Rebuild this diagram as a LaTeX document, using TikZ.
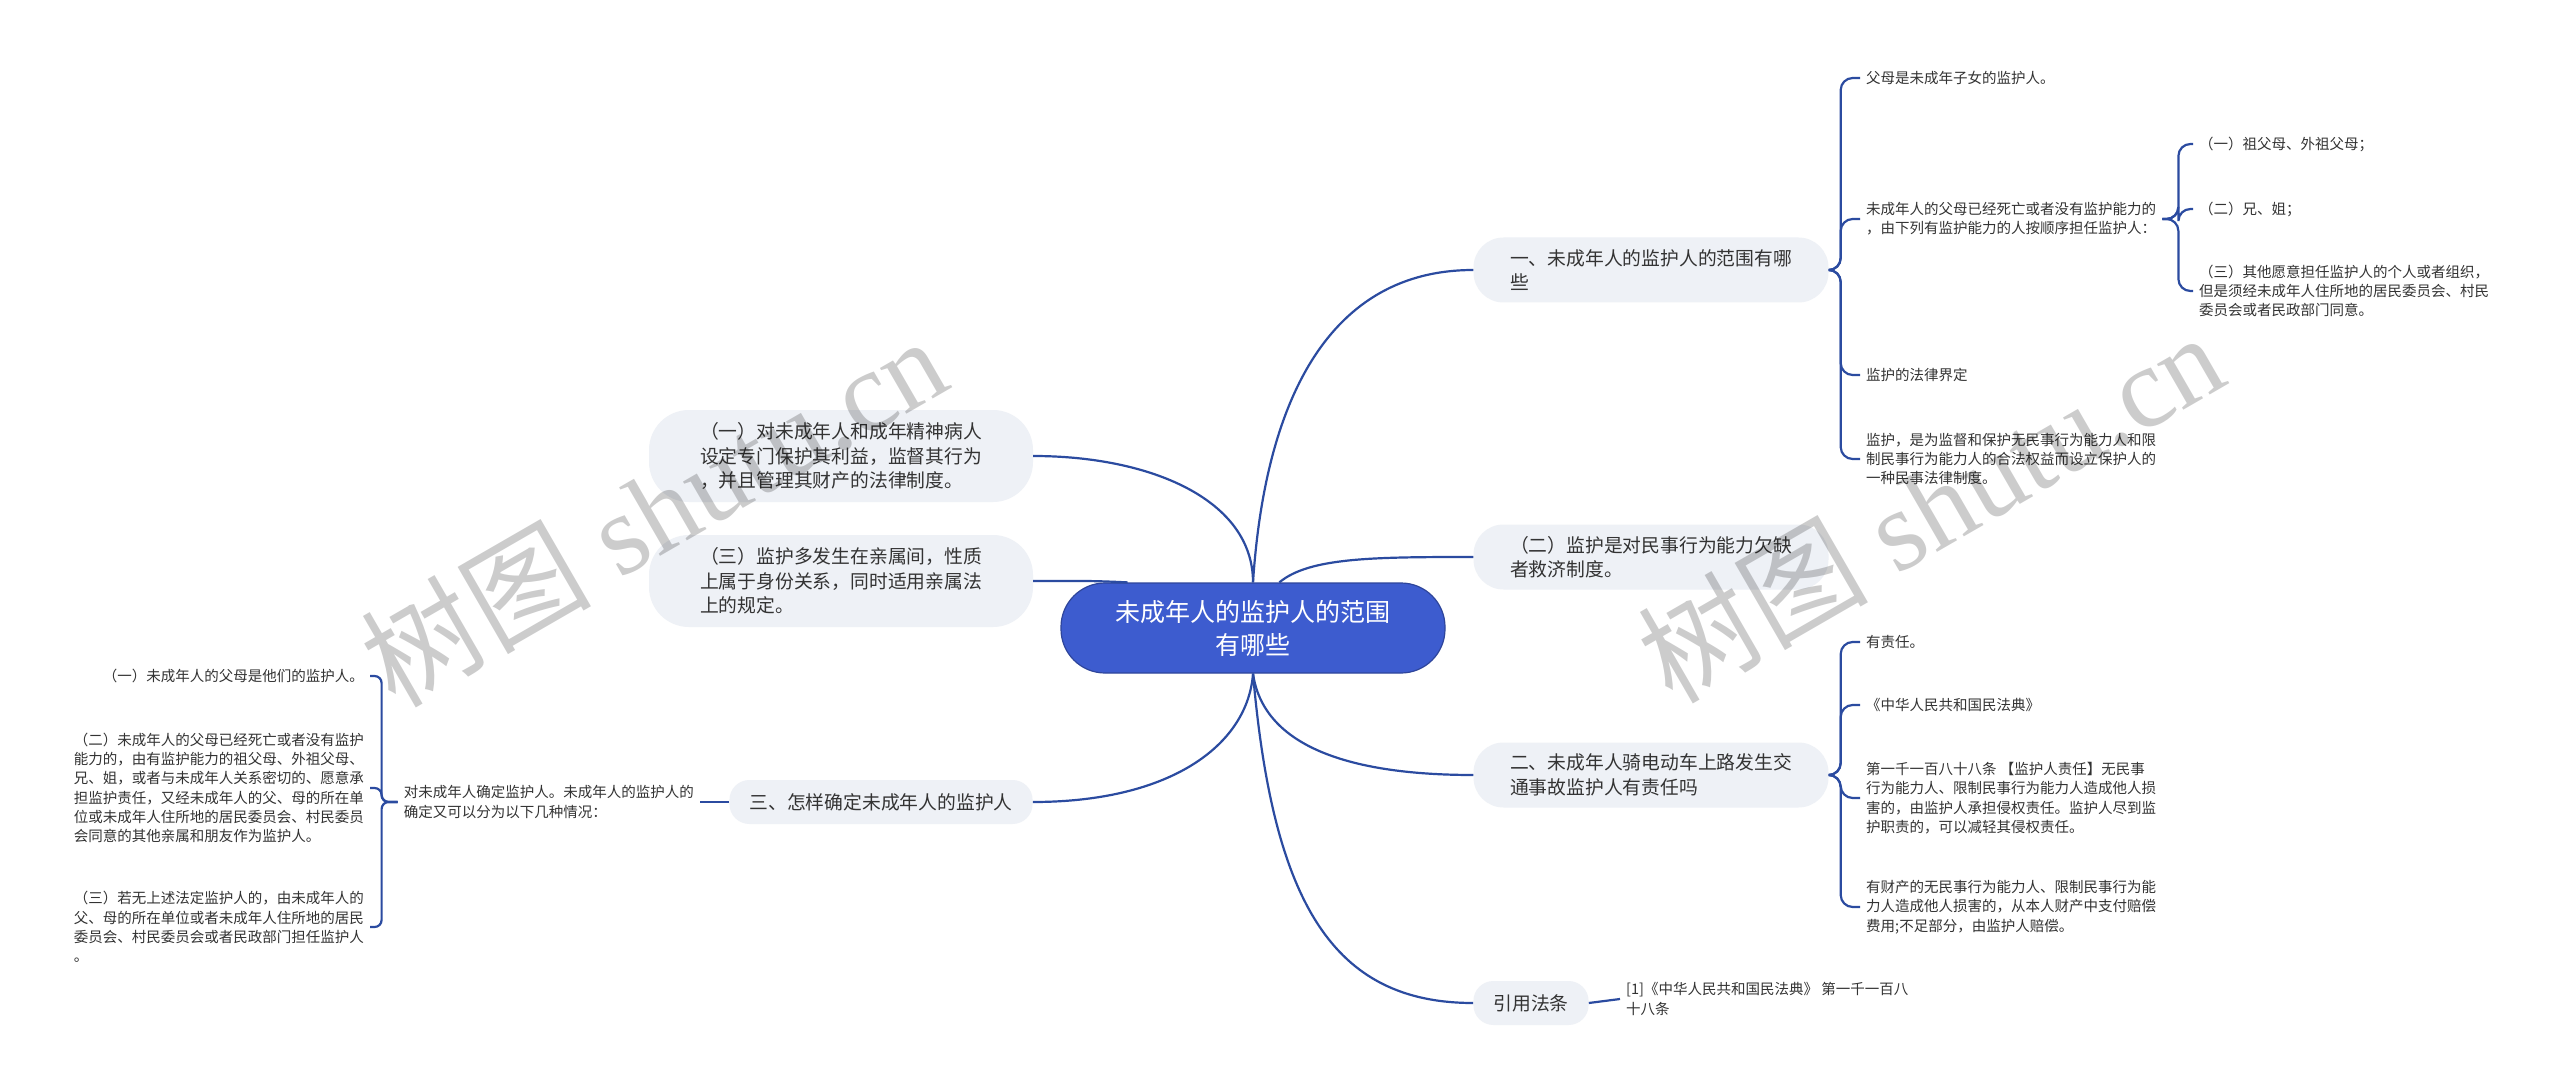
\documentclass[tikz,border=0pt]{standalone}
\usepackage{fontspec}
\newfontfamily\cjk{Noto Sans CJK SC}
\newfontfamily\wmserif{Liberation Serif}
\definecolor{linkblue}{HTML}{2B4BA0}
\definecolor{topicgray}{HTML}{EEF1F6}
\definecolor{rootblue}{HTML}{3D5CCF}
\definecolor{inkgray}{HTML}{333333}

\begin{document}
\begin{tikzpicture}[
  x=1pt,y=-1pt,
  root/.style={draw=rootblue!75!black,line width=1.2,fill=rootblue,text=white,align=center,
    font=\cjk\fontsize{25}{33}\selectfont,minimum width=384,minimum height=90,rounded corners=44},
  topic/.style={fill=topicgray,text=inkgray,align=left,font=\cjk\fontsize{18.8}{24.5}\selectfont,
    minimum width=355,minimum height=65,inner xsep=20,inner ysep=10,rounded corners=30},
  topicwide/.style={topic,minimum width=384,minimum height=92,rounded corners=40},
  topicshort/.style={topic,minimum width=0,minimum height=44,rounded corners=20},
  leaf/.style={text=inkgray,align=left,font=\cjk\fontsize{14.5}{19.3}\selectfont,inner xsep=6,inner ysep=2},
  link/.style={draw=linkblue,line width=2.2},
  branch/.style={link,rounded corners=12},
  branchtight/.style={link,rounded corners=7},
  stamp/.style={text=black,opacity=0.2,rotate=30,font=\wmserif\fontsize{115}{115}\selectfont}
]
\fill[white] (0,0) rectangle (2560,1091);
\useasboundingbox (0,0) rectangle (2560,1091);
\node[root] (root) at (1253,628) {未成年人的监护人的范围\\有哪些};
\node[topic] (n1) at (1651,270) {一、未成年人的监护人的范围有哪\\些};
\node[topic] (n2) at (1651,557) {（二）监护是对民事行为能力欠缺\\者救济制度。};
\node[topic] (n3) at (1651,775) {二、未成年人骑电动车上路发生交\\通事故监护人有责任吗};
\node[topicshort] (n4) at (1531,1003) {引用法条};
\node[topicwide] (n5) at (841,456) {（一）对未成年人和成年精神病人\\设定专门保护其利益，监督其行为\\，并且管理其财产的法律制度。};
\node[topicwide] (n6) at (841,581) {（三）监护多发生在亲属间，性质\\上属于身份关系，同时适用亲属法\\上的规定。};
\node[topicshort] (n7) at (881,802) {三、怎样确定未成年人的监护人};
% right side details
\node[leaf,anchor=west] (a1) at (1860,78) {父母是未成年子女的监护人。};
\node[leaf,anchor=west] (a2) at (1860,219) {未成年人的父母已经死亡或者没有监护能力的\\，由下列有监护能力的人按顺序担任监护人：};
\node[leaf,anchor=west] (a3) at (1860,375) {监护的法律界定};
\node[leaf,anchor=west] (a4) at (1860,459) {监护，是为监督和保护无民事行为能力人和限\\制民事行为能力人的合法权益而设立保护人的\\一种民事法律制度。};
\node[leaf,anchor=west] (b1) at (2193,144) {（一）祖父母、外祖父母；};
\node[leaf,anchor=west] (b2) at (2193,209) {（二）兄、姐；};
\node[leaf,anchor=west] (b3) at (2193,291) {（三）其他愿意担任监护人的个人或者组织，\\但是须经未成年人住所地的居民委员会、村民\\委员会或者民政部门同意。};
\node[leaf,anchor=west] (c1) at (1860,642) {有责任。};
\node[leaf,anchor=west] (c2) at (1860,705) {《中华人民共和国民法典》};
\node[leaf,anchor=west] (c3) at (1860,798) {第一千一百八十八条 【监护人责任】无民事\\行为能力人、限制民事行为能力人造成他人损\\害的，由监护人承担侵权责任。监护人尽到监\\护职责的，可以减轻其侵权责任。};
\node[leaf,anchor=west] (c4) at (1860,907) {有财产的无民事行为能力人、限制民事行为能\\力人造成他人损害的，从本人财产中支付赔偿\\费用;不足部分，由监护人赔偿。};
\node[leaf,anchor=west] (d1) at (1620,999) {[1]《中华人民共和国民法典》 第一千一百八\\十八条};
% left side details
\node[leaf,anchor=east] (e1) at (700,802) {对未成年人确定监护人。未成年人的监护人的\\确定又可以分为以下几种情况：};
\node[leaf,anchor=east] (f1) at (370,676) {（一）未成年人的父母是他们的监护人。};
\node[leaf,anchor=east] (f2) at (370,788) {（二）未成年人的父母已经死亡或者没有监护\\能力的，由有监护能力的祖父母、外祖父母、\\兄、姐，或者与未成年人关系密切的、愿意承\\担监护责任，又经未成年人的父、母的所在单\\位或未成年人住所地的居民委员会、村民委员\\会同意的其他亲属和朋友作为监护人。};
\node[leaf,anchor=east] (f3) at (370,927) {（三）若无上述法定监护人的，由未成年人的\\父、母的所在单位或者未成年人住所地的居民\\委员会、村民委员会或者民政部门担任监护人\\。};
\draw[link] (root.north) .. controls +(12,-183) and +(-144,0) .. (n1.west);
\draw[link] (root.60) .. controls +(30,-25) and +(-100,0) .. (n2.west);
\draw[link] (root.south) .. controls +(10,70) and +(-130,0) .. (n3.west);
\draw[link] (root.south) .. controls +(20,230) and +(-140,0) .. (n4.west);
\draw[link] (root.north) .. controls +(0,-83) and +(117,0) .. (n5.east);
\draw[link] (root.160) .. controls +(-40,-2) and +(40,0) .. (n6.east);
\draw[link] (root.south) .. controls +(-5,70) and +(140,0) .. (n7.east);
\draw[branch] (n1.east) -- ++(12,0) |- (a1.west);
\draw[branch] (n1.east) -- ++(12,0) |- (a2.west);
\draw[branch] (n1.east) -- ++(12,0) |- (a3.west);
\draw[branch] (n1.east) -- ++(12,0) |- (a4.west);
\draw[branch] (a2.east) -- ++(16,0) |- (b1.west);
\draw[branch] (a2.east) -- ++(16,0) |- (b2.west);
\draw[branch] (a2.east) -- ++(16,0) |- (b3.west);
\draw[branch] (n3.east) -- ++(12,0) |- (c1.west);
\draw[branch] (n3.east) -- ++(12,0) |- (c2.west);
\draw[branch] (n3.east) -- ++(12,0) |- (c3.west);
\draw[branch] (n3.east) -- ++(12,0) |- (c4.west);
\draw[link] (n4.east) -- (d1.west);
\draw[link] (n7.west) -- (e1.east);
\draw[branchtight] (e1.west) -- ++(-16,0) |- (f1.east);
\draw[branchtight] (e1.west) -- ++(-16,0) |- (f2.east);
\draw[branchtight] (e1.west) -- ++(-16,0) |- (f3.east);
% watermarks
\node[stamp] (wm1) at (653,510) {{\cjk 树图} shutu.cn};
\node[stamp] (wm2) at (1930,506) {{\cjk 树图} shutu.cn};
\end{tikzpicture}
\end{document}
